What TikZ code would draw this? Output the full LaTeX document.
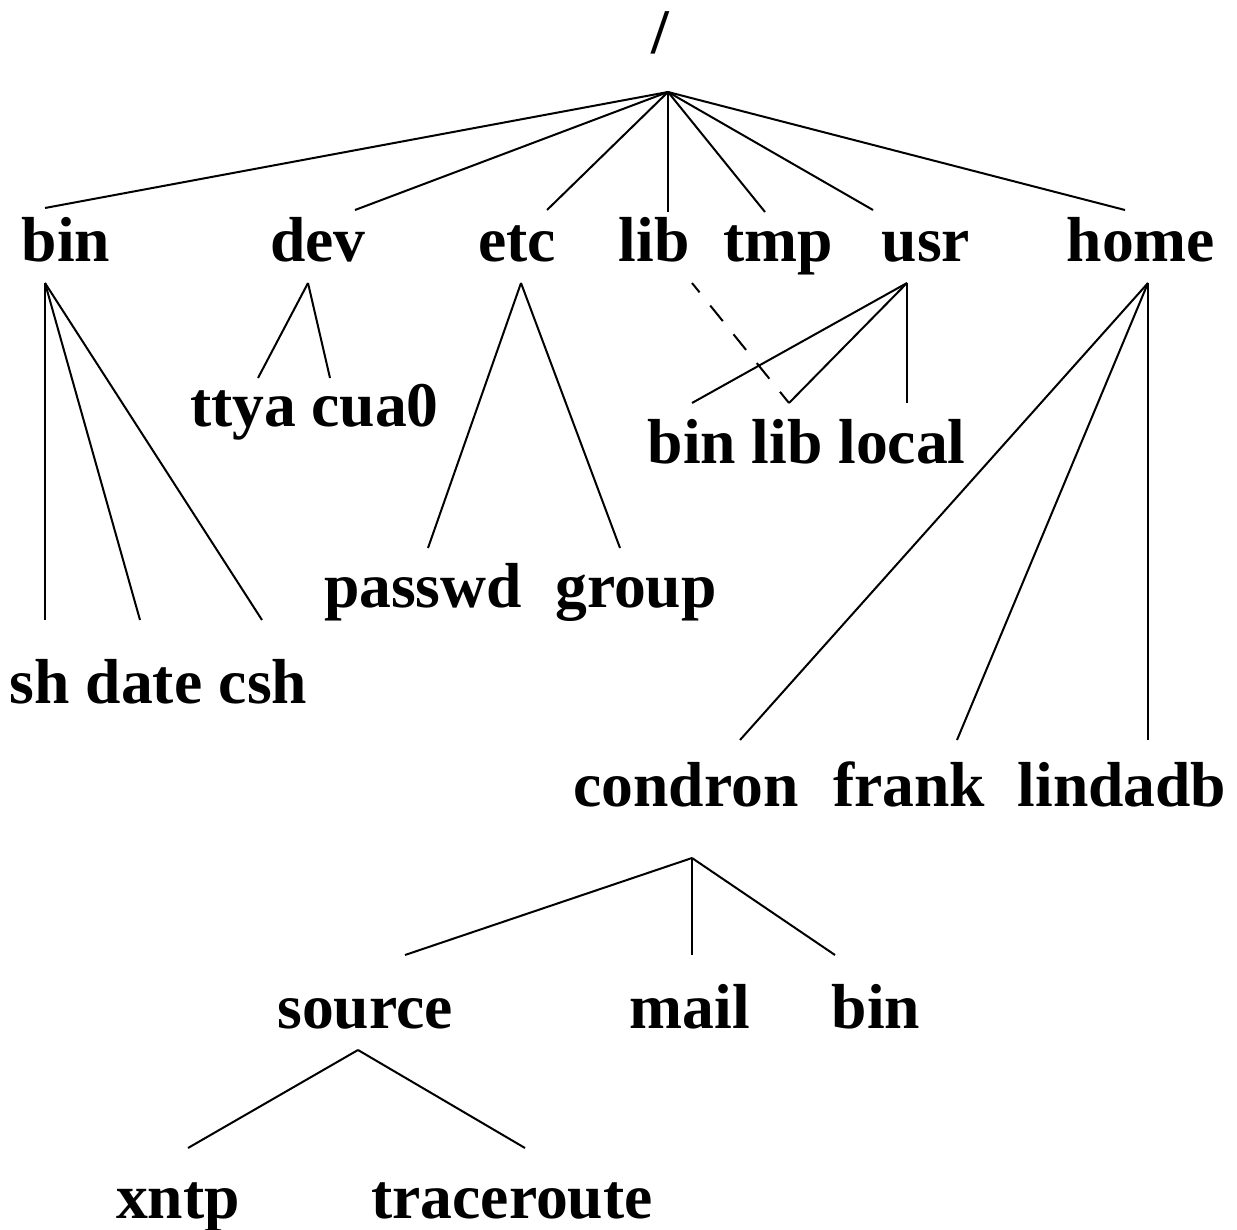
\documentclass[tikz,border=0pt]{standalone}
\usepackage{fontspec}
\setmainfont{Liberation Serif}

\tikzset{dir/.style={anchor=base,inner sep=0pt,font=\fontsize{31.8}{38}\selectfont\bfseries}}

\begin{document}
\begin{tikzpicture}[x=0.5pt,y=-0.5pt,line width=1pt]
	\useasboundingbox (0,0) rectangle (1237,1230);
	%\draw[help lines] (0,0) grid (1237,1230);
	%ROOT
	\node[dir] (root) at (660,54) {/};
	\coordinate (r) at (668,92);
	%FIRST LEVEL
	\node[dir] (bin) at (66,262) {bin};
	\node[dir] (dev) at (318,262) {dev};
	\node[dir] (etc) at (517,262) {etc};
	\node[dir] (lib) at (654,262) {lib};
	\node[dir] (tmp) at (778,262) {tmp};
	\node[dir] (usr) at (926,262) {usr};
	\node[dir] (home) at (1141,262) {home};
	\draw (r) -- (45,208) coordinate (bin-t);
	\draw (r) -- (355,210) coordinate (dev-t);
	\draw (r) -- (547,210) coordinate (etc-t);
	\draw (r) -- (668,212) coordinate (lib-t);
	\draw (r) -- (765,212) coordinate (tmp-t);
	\draw (r) -- (873,210) coordinate (usr-t);
	\draw (r) -- (1125,210) coordinate (home-t);
	
	%BIN
	\coordinate (bin-b) at (45,283);
	\node[dir] (sh) at (40,703) {sh};
	\node[dir] (date) at (144,703) {date};
	\node[dir] (csh) at (263,703) {csh};
	\draw (bin-b) -- (45,620) coordinate (sh-t);
	\draw (bin-b) -- (140,620) coordinate (date-t);
	\draw (bin-b) -- (262,620) coordinate (csh-t);
	
	%DEV
	\coordinate (dev-b) at (308,283);
	\node[dir] (ttya) at (243,426) {ttya};
	\node[dir] (cua0) at (375,426) {cua0};
	\draw (dev-b) -- (258,378) coordinate (ttya-t);
	\draw (dev-b) -- (330,378) coordinate (cua0-t);
	
	%ETC
	\coordinate (etc-b) at (521,283);
	\node[dir] (passwd) at (423,607) {passwd};
	\node[dir] (group) at (636,607) {group};
	\draw (etc-b) -- (428,548) coordinate (passwd-t);
	\draw (etc-b) -- (620,548) coordinate (group-t);
	
	%USR
	\coordinate (usr-b) at (907,283);
	\node[dir] (ubin) at (692,463) {bin};
	\node[dir] (ulib) at (787,463) {lib};
	\node[dir] (local) at (902,463) {local};
	\draw (usr-b) -- (692,403) coordinate (ubin-t);
	\draw (usr-b) -- (789,403) coordinate (ulib-t);
	\draw (usr-b) -- (907,403) coordinate (local-t);
	\coordinate (lib-b) at (692,283);
	\draw[dash pattern=on 10pt off 8.5pt,dash phase=4pt] (lib-b) -- (ulib-t);
	
	%HOME
	\coordinate (home-b) at (1148,283);
	\node[dir] (condron) at (686,806) {condron};
	\node[dir] (frank) at (909,806) {frank};
	\node[dir] (lindadb) at (1122,806) {lindadb};
	\draw (home-b) -- (740,740) coordinate (condron-t);
	\draw (home-b) -- (957,740) coordinate (frank-t);
	\draw (home-b) -- (1148,740) coordinate (lindadb-t);
	
	%CONDRON
	\coordinate (condron-b) at (692,858);
	\node[dir] (source) at (365,1028) {source};
	\node[dir] (mail) at (690,1028) {mail};
	\node[dir] (cbin) at (876,1028) {bin};
	\draw (condron-b) -- (405,955) coordinate (source-t);
	\draw (condron-b) -- (692,955) coordinate (mail-t);
	\draw (condron-b) -- (835,955) coordinate (cbin-t);
	
	%SOURCE
	\coordinate (source-b) at (358,1050);
	\node[dir] (xntp) at (178,1218) {xntp};
	\node[dir] (traceroute) at (512,1218) {traceroute};
	\draw (source-b) -- (188,1148) coordinate (xntp-t);
	\draw (source-b) -- (525,1148) coordinate (traceroute-t);
\end{tikzpicture}
\end{document}
